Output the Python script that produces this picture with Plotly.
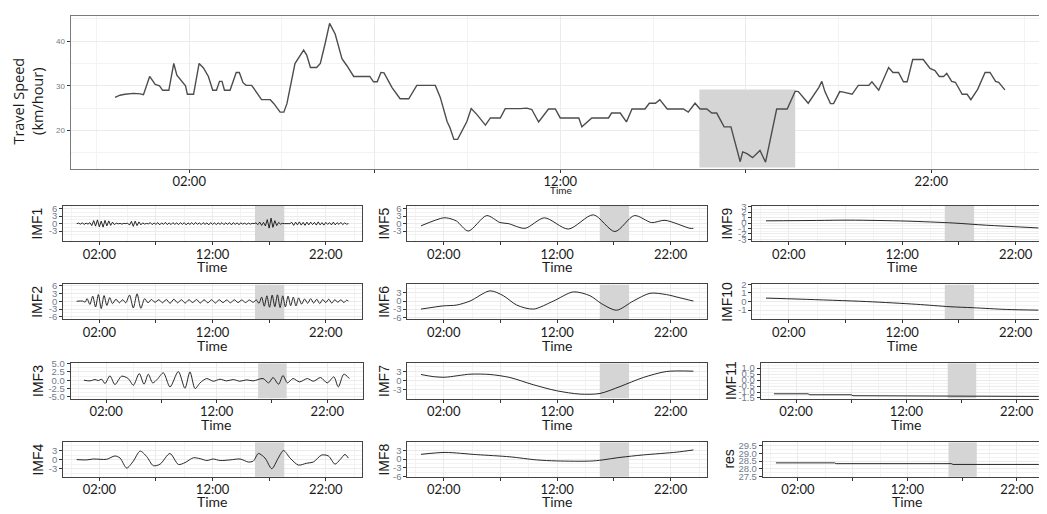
import pandas as pd
import plotly.graph_objects as go

BASE = pd.Timestamp("2021-03-01")
W, H = 1047, 514
OFF = 8  # the page body adds an 8px margin; positions below are measured in the picture

# ---------------- data ----------------
speed_time = ["00:00","00:08","00:16","00:30","00:41","00:46","00:56","01:05","01:12","01:17","01:27","01:35","01:40","01:48","01:54","01:57",
              "02:07","02:16","02:23","02:31","02:38","02:44","02:49","02:53","02:57","03:06","03:16","03:21","03:27","03:32","03:41","03:57",
              "04:11","04:17","04:27","04:33","04:38","04:51","05:05","05:10","05:16","05:26","05:32","05:40","05:47","05:56","06:07","06:15",
              "06:26","06:52","06:58","07:04","07:10","07:15","07:28","07:41","07:55","08:08","08:38","08:46","08:57","09:02","09:08","09:14",
              "09:24","09:29","09:36","09:45","09:59","10:07","10:23","10:31","10:55",
              "11:06","11:14","11:25","11:41","11:52","12:00","12:30","12:35","12:43","12:51","13:18","13:23","13:37","13:47","13:56","14:17",
              "14:24","14:34","14:41","14:53","15:19","15:27","15:38","15:46","15:57","16:05","16:13","16:25","16:36","16:51","16:55","17:02",
              "17:11","17:23","17:32","17:50","18:07","18:20","18:25","18:41","18:58","19:03","19:08","19:17","19:22","19:32","19:38","19:52",
              "20:02","20:19","20:24","20:35","20:51","20:58","21:07","21:15","21:21","21:30","21:47","21:58","22:06","22:13","22:20","22:25",
              "22:33","22:39","22:50","22:58","23:04","23:15","23:27","23:35","23:44","23:49","23:59"]
speed_val = [27.4,27.9,28.1,28.3,28.2,28.0,32.1,30.3,30.0,29.0,29.0,35.0,32.4,31.0,30.0,28.1,
             28.1,35.0,34.0,32.1,29.0,29.0,31.0,31.0,29.0,29.0,33.0,33.0,30.7,30.1,30.1,26.9,
             26.9,26.0,24.1,24.1,26.0,35.0,38.0,36.9,34.1,34.1,35.0,39.6,44.0,41.6,36.1,34.5,
             32.1,32.1,30.9,30.9,33.0,32.9,29.6,27.1,27.1,30.1,30.1,27.4,22.0,20.5,18.0,18.0,
             20.9,22.0,24.9,23.6,21.2,22.8,22.8,24.9,24.9,
             25.0,24.7,21.9,24.8,24.8,22.8,22.8,20.8,21.9,22.8,22.8,23.9,23.9,21.9,24.8,24.8,
             26.1,26.1,26.9,24.8,24.8,24.1,26.1,24.8,24.8,23.9,23.9,20.8,20.8,13.0,15.2,14.8,
             13.9,15.5,12.9,24.8,24.8,28.8,28.7,26.1,29.6,31.0,28.7,26.0,26.0,28.7,28.6,28.1,
             30.1,30.1,30.9,29.0,34.1,33.0,33.0,30.9,30.9,35.9,35.9,33.9,33.4,32.1,32.1,32.8,
             31.0,30.8,28.1,28.1,26.9,29.2,33.0,33.0,31.0,30.8,29.1]

# IMF1: one value every 10 minutes (one row per hour)
imf1_val = [0.0, 0.2, -0.2, 0.3, -0.3, 0.2,
            -0.2, 0.4, -0.8, 1.2, -1.0, 1.5,
            -1.3, 1.0, -1.4, 1.3, -0.9, 1.1,
            -0.7, 0.6, -0.4, 0.2, -0.1, 0.1,
            -0.2, 0.1, 0.0, 0.2, -0.6, 0.9,
            -1.1, 1.0, -0.8, 0.7, -0.5, 0.3,
            -0.2, 0.1, -0.1, 0.4, -0.4, 0.3,
            -0.3, 0.4, -0.5, 0.3, -0.3, 0.5,
            -0.4, 0.3, -0.4, 0.4, -0.3, 0.3,
            -0.4, 0.4, -0.3, 0.4, -0.5, 0.3,
            -0.3, 0.4, -0.4, 0.5, -0.3, 0.3,
            -0.4, 0.4, -0.3, 0.3, -0.5, 0.4,
            -0.3, 0.3, -0.4, 0.3, -0.3, 0.4,
            -0.4, 0.3, -0.3, 0.4, -0.5, 0.4,
            -0.3, 0.3, -0.4, 0.3, -0.2, 0.2,
            -0.3, 0.2, -0.2, 0.1, 0.0, 0.3,
            -0.4, 0.6, -0.7, 0.5, -0.9, 1.6,
            -1.8, 2.2, -1.5, 1.2, -0.8, 0.5,
            -0.2, 0.1, 0.0, 0.1, -0.1, 0.0,
            0.5, -0.7, 0.6, -0.5, 0.7, -0.6,
            0.5, -0.7, 0.6, -0.5, 0.6, -0.4,
            0.5, -0.6, 0.7, -0.5, 0.4, -0.6,
            0.5, -0.3, 0.4, -0.5, 0.6, -0.5,
            0.4, -0.3, 0.5, -0.4, 0.3, -0.2,
            0.0]

imf2_time = ["00:00","00:30","00:45","00:55","01:10","01:25","01:40","01:55","02:10","02:25","02:40","02:55","03:10","03:28",
             "03:46","04:04","04:20","04:40","05:00","05:20","05:40","06:00","06:18","06:36","06:55","07:15","07:35","07:55",
             "08:15","08:35","08:55","09:15","09:35","09:55","10:15","10:35","10:55","11:15","11:35","11:55","12:15","12:35",
             "12:55","13:15","13:35","13:55","14:15","14:35","14:55","15:15","15:35","15:52","16:06","16:20","16:34","16:48",
             "17:02","17:16","17:30","17:44","17:58","18:12","18:26","18:40","18:54","19:08","19:22","19:36","19:52","20:08",
             "20:24","20:40","20:56","21:12","21:28","21:44","22:00","22:16","22:32","22:48","23:04","23:20","23:36","23:50",
             "24:00"]
imf2_val = [0.0,0.1,-0.3,1.0,-1.2,2.0,-2.2,2.6,-2.8,2.2,-1.6,1.4,-0.9,0.8,
            -0.6,0.6,-0.6,2.4,-2.6,2.9,-2.7,1.0,-0.6,0.7,-0.4,0.6,-0.6,0.7,
            -0.8,0.8,-0.6,0.6,-0.7,0.6,-0.5,0.7,-0.7,0.6,-0.6,0.6,-0.7,0.6,
            -0.5,0.5,-0.6,0.6,-0.5,0.5,-0.5,0.5,-0.4,0.5,-0.8,1.6,-1.9,2.1,
            -2.3,2.4,-2.1,2.5,-2.4,2.1,-2.2,2.0,-1.7,1.6,-1.8,1.3,-1.1,0.9,
            -0.8,1.0,-0.7,0.8,-0.9,0.7,-0.5,0.8,-0.7,0.6,-0.4,0.6,-0.5,0.4,
            0.1]

imf3_time = ["00:00","00:32","01:00","01:18","01:36","01:54","02:21","02:48","03:24","04:00","04:28","05:00","05:26","05:49",
             "06:13","06:38","07:11","07:47","08:32","09:08","09:35","10:03","10:30","11:06","11:42","12:18","12:54","13:30",
             "14:06","14:42","15:18","16:12","16:42","17:06","17:36","18:00","18:24","18:54","19:30","20:12","20:45","21:24",
             "22:00","22:36","23:00","23:30","24:00"]
imf3_val = [0.0,-0.2,0.2,-0.1,0.3,-1.0,1.3,-1.3,1.2,0.5,-1.5,2.0,-1.2,1.8,
            -0.8,0.3,2.2,-2.0,2.6,-2.4,2.5,-2.5,-0.8,0.5,-0.3,0.3,-0.2,0.2,
            -0.3,0.1,-0.2,0.5,-0.8,0.8,-1.2,1.4,-0.8,0.5,-0.5,0.5,-0.3,0.8,
            -0.8,1.0,-2.0,1.8,0.5]

imf4_time = ["00:00","00:53","01:28","02:04","02:39","03:23","03:50","04:25","05:00","05:36","06:11","06:46","07:22","08:14",
             "08:59","09:34","10:18","10:54","11:30","12:04","12:40","13:33","14:26","15:10","15:36","16:03","16:38","17:14",
             "17:48","18:16","18:51","19:35","20:18","20:54","21:38","22:14","22:49","23:16","23:42","24:00"]
imf4_val = [0.0,-0.1,0.2,0.1,0.1,1.2,0.5,-2.8,-0.5,2.8,1.0,-2.0,-1.5,2.0,
            -1.6,-1.0,0.6,0.3,-0.3,0.2,-0.3,-0.1,0.2,-0.8,-0.5,2.0,0.5,-3.0,
            0.5,3.0,0.5,-1.8,-1.2,-0.8,1.5,1.2,-1.5,0.0,1.7,0.5]

imf5_time = ["00:00","01:58","02:33","03:08","04:10","05:47","06:58","07:41","09:10","10:52","12:59","15:11","17:05","18:48",
             "20:19","21:30","23:42","24:00"]
imf5_val = [-0.9,2.3,2.0,1.0,-3.0,3.2,0.4,0.0,-1.9,2.3,-2.2,3.5,-3.2,3.2,0.4,1.3,-1.9,-1.9]

imf6_time = ["00:00","01:58","03:08","04:19","06:05","07:15","08:26","09:54","11:40","13:25","14:53","15:55","17:14","18:42",
             "20:11","21:38","22:49","24:00"]
imf6_val = [-3.0,-1.8,-1.5,0.0,3.8,2.0,-1.5,-3.0,0.0,3.4,2.0,-1.0,-3.4,0.0,2.9,2.4,1.2,0.0]

imf7_time = ["00:00","01:05","02:07","04:19","06:05","07:50","09:54","11:57","14:00","15:46","17:32","19:35","21:38","24:00"]
imf7_val = [2.0,1.3,1.1,2.1,2.0,1.0,-1.4,-3.4,-4.5,-4.3,-2.0,1.0,3.0,3.1]

imf8_time = ["00:00","02:07","04:54","07:50","10:11","11:57","15:11","17:32","19:35","22:32","24:00"]
imf8_val = [1.6,2.25,1.5,0.75,-0.3,-0.65,-0.65,0.55,1.4,2.35,3.1]

imf9_time = ["00:00","04:28","07:24","12:24","16:30","19:26","24:00"]
imf9_val = [0.4,0.47,0.53,0.35,0.0,-0.4,-0.9]

imf10_time = ["00:00","03:00","08:52","13:16","16:12","18:16","21:12","24:00"]
imf10_val = [0.4,0.28,0.0,-0.32,-0.6,-0.72,-0.92,-1.0]

imf11_time = ["00:00","03:05","03:15","07:00","07:10","12:15","12:25","24:00"]
imf11_val = [-1.15,-1.15,-1.23,-1.23,-1.31,-1.31,-1.36,-1.37]

res_time = ["00:00","05:20","05:30","16:00","16:10","24:00"]
res_val = [28.38,28.38,28.33,28.33,28.28,28.28]

shade_start, shade_end = "15:45", "18:20"
top_shade_y = (11.7, 29.2)

x_tick_labels = ["02:00", "", "12:00", "", "22:00"]
x_tick_times = ["02:00", "07:00", "12:00", "17:00", "22:00"]


# ---------------- helpers ----------------
def to_dt(hhmm):
    h, m = hhmm.split(":")
    return (BASE + pd.Timedelta(hours=int(h), minutes=int(m))).strftime("%Y-%m-%d %H:%M:%S")


def hrs(h):
    return (BASE + pd.Timedelta(hours=h)).strftime("%Y-%m-%d %H:%M:%S")


def ten_min(vals):
    return [(BASE + pd.Timedelta(minutes=10 * i)).strftime("%Y-%m-%d %H:%M:%S") for i in range(len(vals))]


def fx(x):
    return (x - OFF) / W


def fy(y):
    return 1 - (y - OFF) / H


GRID = "#EBEBEB"
MINOR = "#F3F3F3"
YTICK_COLOR = "#6F7C8E"
TXT = "#1a1a1a"
SHADE = "#D5D5D5"

fig = go.Figure()
layout = dict(width=W, height=H, margin=dict(l=0, r=0, t=0, b=0), autosize=False,
              paper_bgcolor="white", plot_bgcolor="white", showlegend=False)
shapes, annotations = [], []


def add_panel(n, xs, ys, L, R, top, bottom, yrange, ytickvals, yticktext, label, label_x,
              line_color="#111111", line_width=0.9, shape="spline", border="#444444",
              ytick_size=9.5, xtick_size=13, top_panel=False, time_gap=26.5):
    xa = "x" if n == 1 else f"x{n}"
    ya = "y" if n == 1 else f"y{n}"
    fig.add_trace(go.Scatter(x=xs, y=ys, mode="lines", xaxis=xa, yaxis=ya,
                             line=dict(color=line_color, width=line_width, shape=shape,
                                       smoothing=0.8 if shape == "spline" else None),
                             hoverinfo="skip"))
    ystep = ytickvals[1] - ytickvals[0]
    layout["xaxis" if n == 1 else f"xaxis{n}"] = dict(
        domain=[fx(L), min(fx(R), 1.0)], anchor=ya, type="date",
        range=[hrs(-1.2), hrs(25.2)],
        tickmode="array", tickvals=[to_dt(t) for t in x_tick_times], ticktext=x_tick_labels,
        ticks="outside", ticklen=3, tickcolor="#333333", tickwidth=1, ticklabelstandoff=-2,
        tickfont=dict(family="Lato, sans-serif", size=xtick_size, color=TXT),
        showgrid=True, gridcolor=GRID, gridwidth=1,
        minor=dict(tickmode="linear", tick0=to_dt("04:30"), dtick=5 * 3600 * 1000,
                   showgrid=True, gridcolor=MINOR, gridwidth=0.6, ticks=""),
        showline=True, linecolor=border, linewidth=1, mirror=True, zeroline=False,
        fixedrange=True)
    layout["yaxis" if n == 1 else f"yaxis{n}"] = dict(
        domain=[fy(bottom), fy(top)], anchor=xa, range=list(yrange),
        tickmode="array", tickvals=ytickvals, ticktext=yticktext,
        ticks="outside", ticklen=3, tickcolor="#333333", tickwidth=1,
        tickfont=dict(family="Liberation Sans, Arial, sans-serif", size=ytick_size, color=YTICK_COLOR),
        showgrid=True, gridcolor=GRID, gridwidth=1,
        minor=dict(tickmode="linear", tick0=ytickvals[0] - ystep / 2, dtick=ystep,
                   showgrid=True, gridcolor=MINOR, gridwidth=0.6, ticks=""),
        showline=True, linecolor=border, linewidth=1, mirror=True, zeroline=False,
        fixedrange=True)
    if top_panel:
        y0, y1 = top_shade_y
    else:
        y0, y1 = yrange
    shapes.append(dict(type="rect", xref=xa, yref=ya, x0=to_dt(shade_start), x1=to_dt(shade_end),
                       y0=y0, y1=y1, fillcolor=SHADE, line=dict(width=0), layer="between"))
    if not top_panel:
        annotations.append(dict(text="Time", xref="paper", yref="paper", x=fx((L + R) / 2),
                                y=fy(bottom + time_gap), showarrow=False,
                                font=dict(family="Lato, sans-serif", size=14, color=TXT),
                                xanchor="center", yanchor="middle"))
        annotations.append(dict(text=label, xref="paper", yref="paper", x=fx(label_x),
                                y=fy((top + bottom) / 2), showarrow=False, textangle=-90,
                                font=dict(family="Liberation Sans, Arial, sans-serif", size=14, color=TXT),
                                xanchor="center", yanchor="middle"))


# top panel
add_panel(1, [to_dt(t) for t in speed_time], speed_val, 70.5, 1050.0, 10, 166,
          (11.45, 45.65), [20, 30, 40], ["20", "30", "40"], None, None,
          line_color="#4d4d4d", line_width=1.4, shape="linear", border="#7a7a7a",
          ytick_size=8, xtick_size=13, top_panel=True)
annotations.append(dict(text="Travel Speed<br>(km/hour)", xref="paper", yref="paper", x=fx(28.5), y=fy(97),
                        showarrow=False, textangle=-90,
                        font=dict(family="Open Sans, sans-serif", size=14.5, color=TXT),
                        xanchor="center", yanchor="middle"))
annotations.append(dict(text="Time", xref="paper", yref="paper", x=fx(561), y=fy(188), showarrow=False,
                        font=dict(family="Lato, sans-serif", size=10, color=TXT),
                        xanchor="center", yanchor="middle"))

rows = [(204.3, 240.0), (284.3, 320.0), (365.0, 401.0), (445.7, 481.0)]
gaps = [26.5, 26.5, 26.5, 25.5]

# column 1
add_panel(2, ten_min(imf1_val), imf1_val, 63.1, 362.0, *rows[0], (-7.0, 7.05), [-3, 0, 3, 6],
          ["-3", "0", "3", "6"], "IMF1", 37, shape="linear", time_gap=gaps[0])
add_panel(3, [to_dt(t) for t in imf2_time], imf2_val, 63.1, 362.0, *rows[1], (-7.0, 6.55), [-6, -3, 0, 3, 6],
          ["-6", "-3", "0", "3", "6"], "IMF2", 37, time_gap=gaps[1])
add_panel(4, [to_dt(t) for t in imf3_time], imf3_val, 70.7, 362.6, *rows[2], (-5.5, 5.05),
          [-5, -2.5, 0, 2.5, 5], ["-5.0", "-2.5", "0.0", "2.5", "5.0"], "IMF3", 38, time_gap=gaps[2])
add_panel(5, [to_dt(t) for t in imf4_time], imf4_val, 63.1, 362.0, *rows[3], (-5.7, 5.7), [-3, 0, 3],
          ["-3", "0", "3"], "IMF4", 38, time_gap=gaps[3])
# column 2
add_panel(6, [to_dt(t) for t in imf5_time], imf5_val, 407.4, 707.0, *rows[0], (-7.0, 7.0), [-3, 0, 3, 6],
          ["-3", "0", "3", "6"], "IMF5", 384, time_gap=gaps[0])
add_panel(7, [to_dt(t) for t in imf6_time], imf6_val, 407.4, 707.0, *rows[1], (-6.8, 6.2), [-6, -3, 0, 3],
          ["-6", "-3", "0", "3"], "IMF6", 384, time_gap=gaps[1])
add_panel(8, [to_dt(t) for t in imf7_time], imf7_val, 407.4, 707.0, *rows[2], (-6.0, 5.7), [-3, 0, 3],
          ["-3", "0", "3"], "IMF7", 384, time_gap=gaps[2])
add_panel(9, [to_dt(t) for t in imf8_time], imf8_val, 407.4, 707.0, *rows[3], (-6.1, 5.7), [-6, -3, 0, 3],
          ["-6", "-3", "0", "3"], "IMF8", 384, time_gap=gaps[3])
# column 3
add_panel(10, [to_dt(t) for t in imf9_time], imf9_val, 752.4, 1052.0, *rows[0], (-3.3, 3.1),
          [-3, -2, -1, 0, 1, 2, 3], ["-3", "-2", "-1", "0", "1", "2", "3"], "IMF9", 727, time_gap=gaps[0])
add_panel(11, [to_dt(t) for t in imf10_time], imf10_val, 752.4, 1052.0, *rows[1], (-2.07, 2.0),
          [-1, 0, 1, 2], ["-1", "0", "1", "2"], "IMF10", 727, time_gap=gaps[1])
add_panel(12, [to_dt(t) for t in imf11_time], imf11_val, 760.7, 1052.0, *rows[2], (-1.55, 1.4),
          [-1.5, -1.0, -0.5, 0.0, 0.5, 1.0], ["-1.5", "-1.0", "-0.5", "0.0", "0.5", "1.0"], "IMF11", 731,
          shape="linear", time_gap=gaps[2])
add_panel(13, [to_dt(t) for t in res_time], res_val, 762.8, 1052.0, *rows[3], (27.48, 29.7),
          [27.5, 28.0, 28.5, 29.0, 29.5], ["27.5", "28.0", "28.5", "29.0", "29.5"], "res", 729,
          shape="linear", time_gap=gaps[3])

layout["shapes"] = shapes
layout["annotations"] = annotations
fig.update_layout(**layout)
fig.write_html("out.html")
